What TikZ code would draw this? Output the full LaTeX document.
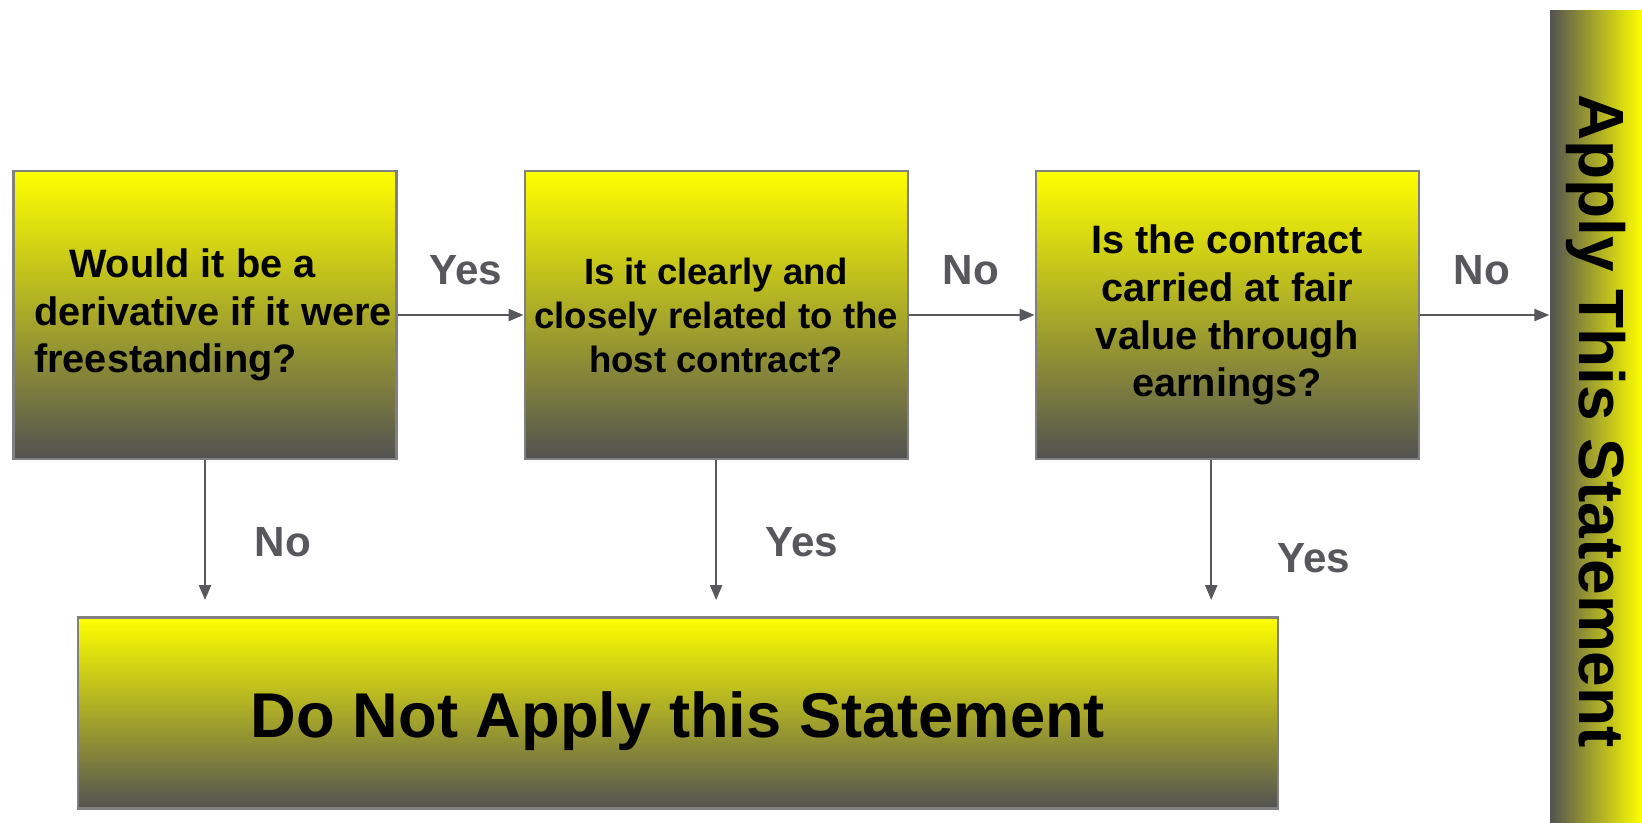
\documentclass[tikz,border=0pt]{standalone}
\usepackage{fontspec}
\setmainfont{Liberation Sans}
\usepackage{tikz}
\usetikzlibrary{arrows.meta,positioning}

\definecolor{boxyellow}{RGB}{255,255,0}
\definecolor{boxgray}{RGB}{82,82,82}
\definecolor{linegray}{RGB}{88,88,92}

\begin{document}
\begin{tikzpicture}[x=0.1mm, y=-0.1mm,
    question/.style={draw=gray, line width=0.6pt, top color=boxyellow, bottom color=boxgray,
      minimum width=38.3mm, minimum height=28.8mm, inner sep=0pt, align=center,
      font=\bfseries\fontsize{11.3}{13.6}\selectfont},
    flow/.style={draw=linegray, line width=0.7pt, -{Triangle[length=1.5mm,width=1.2mm]}},
    answer/.style={text=linegray, font=\bfseries\fontsize{12}{14}\selectfont}]
    \useasboundingbox (0,0) rectangle (1642,822);
    \node[question, align=left] (box1) at (205,315)
      {\hspace*{5.1mm}Would it be a\\\hspace*{1.6mm}derivative if it were\\\hspace*{1.6mm}freestanding?};
    \node[question, right=12.6mm of box1, font=\bfseries\fontsize{10.4}{12.5}\selectfont] (box2)
      {Is it clearly and\\closely related to the\\host contract?};
    \node[question, right=12.6mm of box2] (box3)
      {Is the contract\\carried at fair\\value through\\earnings?};
    \node[question, minimum width=120mm, minimum height=19.1mm,
      font=\bfseries\fontsize{18}{21}\selectfont] (skip) at (678,713)
      {\raisebox{-2.4mm}[0pt][0pt]{Do Not Apply this Statement}};
    \node[left color=boxgray, middle color=yellow!74!boxgray, right color=boxyellow,
      minimum width=9.2mm, minimum height=81.2mm, inner sep=0pt] (apply) at (1596,416) {};
    \node[rotate=-90, font=\bfseries\fontsize{18.2}{21}\selectfont] (applytext) at (1596,421)
      {Apply This Statement};
    \coordinate (stop) at (0,600);
    \coordinate (drop) at ([xshift=-1.6mm]box3.south);
    \draw[flow] (box1) -- (box2);
    \draw[flow] (box2) -- (box3);
    \draw[flow] (box3) -- (box3 -| apply.west);
    \draw[flow] (box1.south) -- (box1.south |- stop);
    \draw[flow] (box2.south) -- (box2.south |- stop);
    \draw[flow] (drop) -- (drop |- stop);
    \node[answer] (yes1) at (466,270) {Yes};
    \node[answer] (no2) at (971,270) {No};
    \node[answer] (no3) at (1482,270) {No};
    \node[answer] (no1) at (283,542) {No};
    \node[answer] (yes2) at (802,542) {Yes};
    \node[answer] (yes3) at (1314,558) {Yes};
  \end{tikzpicture}
\end{document}
